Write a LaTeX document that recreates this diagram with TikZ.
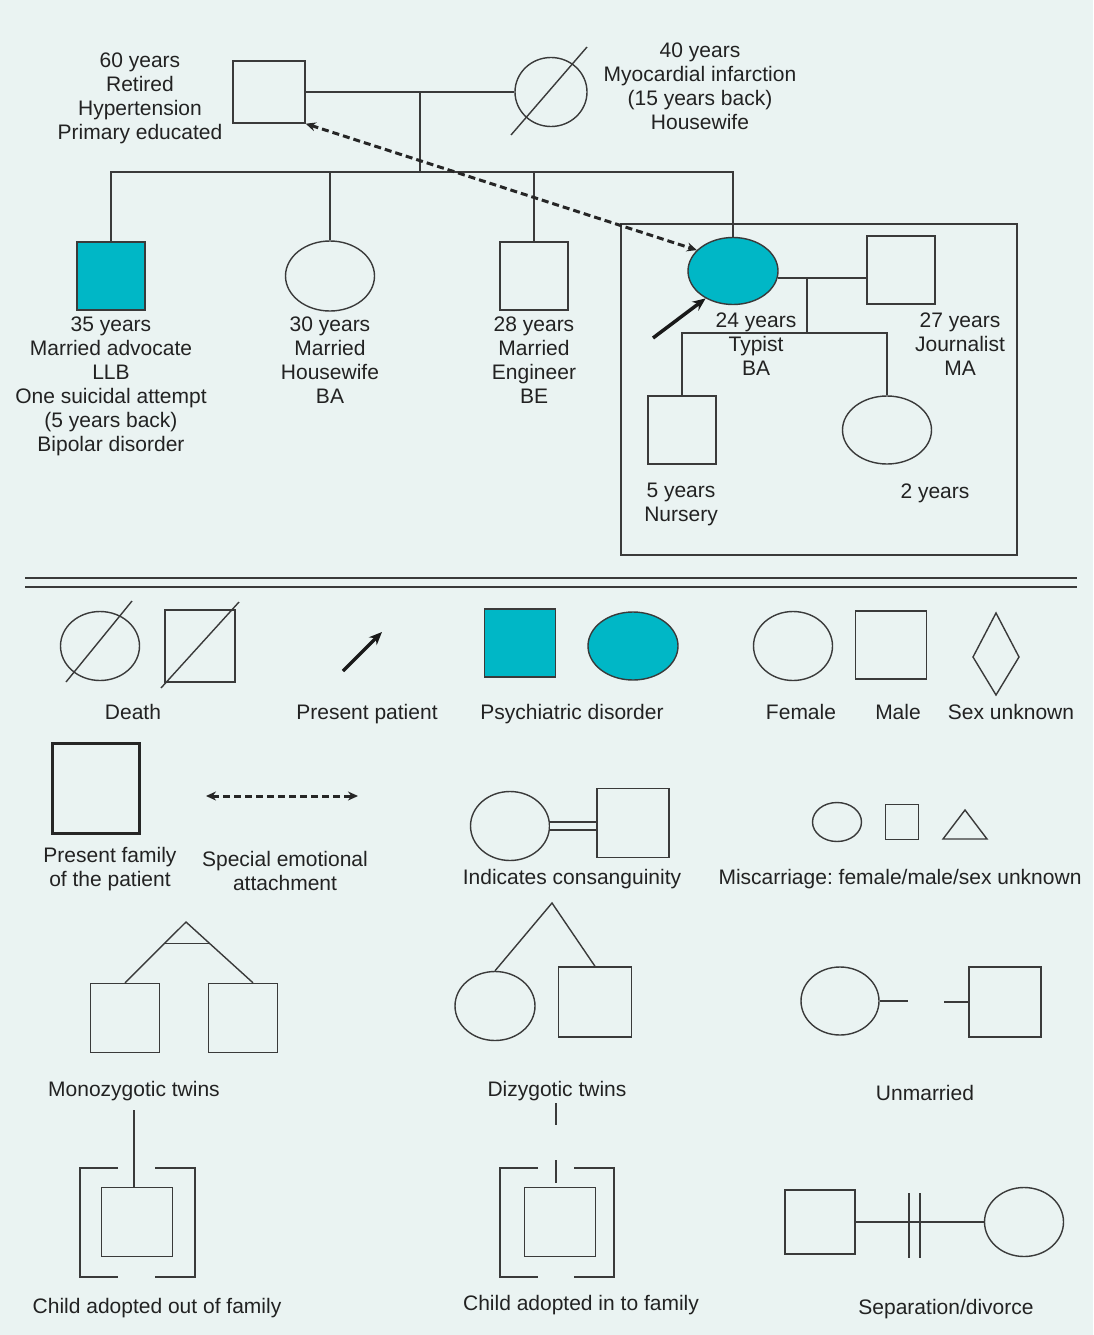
\documentclass[tikz,border=0pt]{standalone}
\usepackage{fontspec}
\setmainfont{Liberation Sans}
\usetikzlibrary{shapes.geometric,arrows.meta,calc}
\definecolor{bgcol}{HTML}{EAF3F2}
\definecolor{linecol}{HTML}{3A3A3A}
\definecolor{txtcol}{HTML}{222222}
\definecolor{affcol}{HTML}{00B7C6}
\tikzset{
  male/.style={draw=linecol, line width=1.4pt, rectangle, inner sep=0pt, minimum width=68pt, minimum height=68pt},
  female/.style={draw=linecol, line width=1.4pt, ellipse, inner sep=0pt, minimum width=90pt, minimum height=68pt},
  ill/.style={fill=affcol},
  lbl/.style={align=center, anchor=north, inner sep=0pt, text=txtcol, font=\fontsize{21}{24}\selectfont\frenchspacing},
  link/.style={draw=linecol, line width=1.4pt},
  attach/.style={draw=black!85, line width=3pt, dash pattern=on 7pt off 4pt, {Stealth[length=10pt,width=9pt]}-{Stealth[length=10pt,width=9pt]}},
  patarrow/.style={draw=black!90, line width=3.5pt, -{Stealth[length=13pt,width=11pt]}},
}

\begin{document}
\begin{tikzpicture}[x=1pt, y=-1pt]
\fill[bgcol] (0,0) rectangle (1093,1335);
\useasboundingbox (0,0) rectangle (1093,1335);

% Grandparents
\node (fa) [male, minimum width=72pt, minimum height=62pt] at (269,92) {};
\node (mo) [female, minimum width=72pt, minimum height=69pt] at (551,92) {};
\node (faT) [lbl] at (140,53) {60 years\\Retired\\Hypertension\\Primary educated};
\node (moT) [lbl] at (700,43) {40 years\\Myocardial infarction\\(15 years back)\\Housewife};
\draw[link] ($(mo.center)+(-40,43)$) -- ($(mo.center)+(36,-45)$);
\coordinate (m1) at (420,92);
\coordinate (sibs) at (420,172);

% Children
\node (c1) [male, ill] at (111,276) {};
\node (c2) [female, minimum width=89pt, minimum height=70pt] at (330,276) {};
\node (c3) [male] at (534,276) {};
\node (pt) [female, ill, minimum height=67pt] at (733,271) {};
\node (sp) [male] at (901,270) {};
\node (c1T) [lbl] at (111,317) {35 years\\Married advocate\\LLB\\One suicidal attempt\\(5 years back)\\Bipolar disorder};
\node (c2T) [lbl] at (330,317) {30 years\\Married\\Housewife\\BA};
\node (c3T) [lbl] at (534,317) {28 years\\Married\\Engineer\\BE};
\node (ptT) [lbl] at (756,313) {24 years\\Typist\\BA};
\node (spT) [lbl] at (960,313) {27 years\\Journalist\\MA};

% Grandchildren
\node (g1) [male] at (682,430) {};
\node (g2) [female, minimum width=89pt] at (887,430) {};
\node (g1T) [lbl] at (681,483) {5 years\\Nursery};
\node (g2T) [lbl] at (935,484) {2 years};
\coordinate (m2) at (807,278);
\coordinate (kids) at (807,333);

% Lines
\draw[link] (fa) -- (mo);
\draw[link] (m1) -- (sibs);
\draw[link] (c1.north) |- (sibs) -| (pt.north);
\draw[link] (c2.north) -- (c2.north |- sibs);
\draw[link] (c3.north) -- (c3.north |- sibs);
\draw[link] (pt.-9) -- (pt.-9 -| sp.west);
\draw[link] (m2) -- (kids);
\draw[link] (g1.north) |- (kids) -| (g2.north);
\draw[link] (621,224) rectangle (1017,555);

% Arrows
\coordinate (pa) at (653,338);
\draw[patarrow] (pa) -- (pt.225);
\draw[attach] (fa.south east) -- (pt.150);

% Separator
\draw[linecol, line width=2pt] (25,578) -- (1077,578);
\draw[linecol, line width=2pt] (25,587) -- (1077,587);

% Legend
\node (ld1) [female, minimum width=79pt, minimum height=69pt] at (100,646) {};
\draw[link] ($(ld1.center)+(-34,36)$) -- ($(ld1.center)+(32,-45)$);
\node (ld2) [male, minimum width=70pt, minimum height=72pt] at (200,646) {};
\draw[link] ($(ld2.center)+(-39,42)$) -- ($(ld2.center)+(39,-44)$);
\node (ldT) [lbl] at (133,704) {Death};
\coordinate (lpa) at (343,671);
\coordinate (lpb) at (382,632);
\draw[patarrow] (lpa) -- (lpb);
\node (lpT) [lbl] at (367,704) {Present patient};
\node (lx1) [male, ill, minimum width=71pt] at (520,643) {};
\node (lx2) [female, ill] at (633,646) {};
\node (lxT) [lbl] at (572,704) {Psychiatric disorder};
\node (lf) [female, minimum width=79pt, minimum height=69pt] at (793,646) {};
\node (lfT) [lbl] at (801,704) {Female};
\node (lm) [male, minimum width=71pt] at (891,645) {};
\node (lmT) [lbl] at (898,704) {Male};
\draw[link] (996,613) -- (1019,657) -- (996,695) -- (973,657) -- cycle;
\node (luT) [lbl] at (1011,704) {Sex unknown};

\node (lfam) [male, line width=3pt, draw=black!85, minimum width=87pt, minimum height=90pt] at (96,788) {};
\node (lfamT) [lbl] at (110,847) {Present family\\of the patient};
\coordinate (ea1) at (206,796);
\coordinate (ea2) at (358,796);
\draw[attach] (ea1) -- (ea2);
\node (eaT) [lbl] at (285,851) {Special emotional\\attachment};
\node (cf) [female, minimum width=79pt, minimum height=69pt] at (510,826) {};
\node (cm) [male, minimum width=72pt, minimum height=69pt] at (633,823) {};
\draw[link, double=bgcol, double distance=6.5pt] (cf.east) -- (cf.east -| cm.west);
\node (cT) [lbl] at (572,869) {Indicates consanguinity};
\node (mf) [female, minimum width=49pt, minimum height=39pt] at (837,822) {};
\node (mm) [male, minimum width=33pt, minimum height=35pt] at (902,822) {};
\draw[link] (943,839) -- (987,839) -- (965,810) -- cycle;
\node (mT) [lbl] at (900,869) {Miscarriage: female/male/sex unknown};

\coordinate (mzA) at (186,922);
\node (mz1) [male, minimum width=69pt, minimum height=69pt] at (125,1018) {};
\node (mz2) [male, minimum width=69pt, minimum height=69pt] at (243,1018) {};
\draw[link] (mz1.north) -- (mzA) -- ([xshift=10pt]mz2.north);
\draw[link] ($(mzA)!0.35!(mz1.north)$) -- ($(mzA)!0.35!([xshift=10pt]mz2.north)$);
\node (mzT) [lbl] at (134,1081) {Monozygotic twins};

\coordinate (dzA) at (552,903);
\node (dz1) [female, minimum width=80pt, minimum height=69pt] at (495,1006) {};
\node (dz2) [male, minimum width=73pt, minimum height=70pt] at (595,1002) {};
\draw[link] (dz1.north) -- (dzA) -- (dz2.north);
\node (dzT) [lbl] at (557,1081) {Dizygotic twins};

\node (um1) [female, minimum width=78pt, minimum height=68pt] at (840,1001) {};
\node (um2) [male, minimum width=72pt, minimum height=70pt] at (1005,1002) {};
\coordinate (us1) at (908,1001);
\coordinate (us2) at (944,1002);
\draw[link] (um1.east) -- (us1);
\draw[link] (us2) -- (um2.west);
\node (umT) [lbl] at (925,1085) {Unmarried};

\coordinate (ao1) at (134,1110);
\node (ao) [male, minimum width=71pt, minimum height=69pt] at (137,1222) {};
\draw[link] (ao1) -- (ao1 |- ao.north);
\draw[link] (118,1168) -- (80,1168) -- (80,1277) -- (118,1277);
\draw[link] (155,1168) -- (195,1168) -- (195,1277) -- (155,1277);
\node (aoT) [lbl] at (157,1298) {Child adopted out of family};

\coordinate (dz3) at (556,1103);
\draw[link] (dz3) -- ++(0,22);
\coordinate (ai1) at (556,1160);
\node (ai) [male, minimum width=71pt, minimum height=69pt] at (560,1222) {};
\draw[link] (ai1) -- ++(0,23);
\draw[link] (538,1168) -- (500,1168) -- (500,1277) -- (538,1277);
\draw[link] (574,1168) -- (614,1168) -- (614,1277) -- (574,1277);
\node (aiT) [lbl] at (581,1295) {Child adopted in to family};

\node (sm) [male, minimum width=70pt, minimum height=64pt] at (820,1222) {};
\node (sf) [female, minimum width=79pt, minimum height=69pt] at (1024,1222) {};
\draw[link] (sm.east) -- (sm.east -| sf.west);
\draw[link] (909,1193) -- (909,1258);
\draw[link] (920,1193) -- (920,1258);
\node (sT) [lbl] at (946,1299) {Separation/divorce};
\end{tikzpicture}
\end{document}
